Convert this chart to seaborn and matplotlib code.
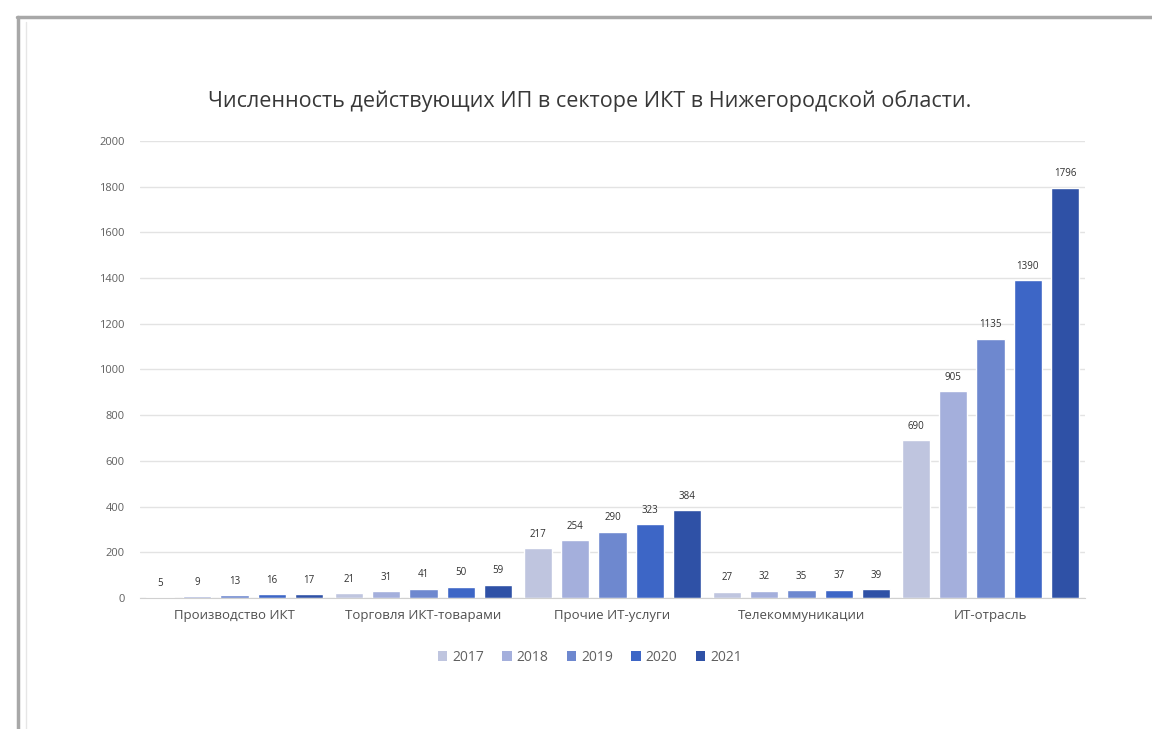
import matplotlib
matplotlib.use("Agg")
import matplotlib.pyplot as plt
from matplotlib.lines import Line2D
from matplotlib.patches import Patch
import pandas as pd
import seaborn as sns

categories = ["Производство ИКТ", "Торговля ИКТ-товарами", "Прочие ИТ-услуги",
              "Телекоммуникации", "ИТ-отрасль"]
years = ["2017", "2018", "2019", "2020", "2021"]
values_2017 = [5, 21, 217, 27, 690]
values_2018 = [9, 31, 254, 32, 905]
values_2019 = [13, 41, 290, 35, 1135]
values_2020 = [16, 50, 323, 37, 1390]
values_2021 = [17, 59, 384, 39, 1796]
y_ticks = [0, 200, 400, 600, 800, 1000, 1200, 1400, 1600, 1800, 2000]
title = "Численность действующих ИП в секторе ИКТ в Нижегородской области."

series = [values_2017, values_2018, values_2019, values_2020, values_2021]
df = pd.DataFrame(
    [(c, y, v) for y, vals in zip(years, series) for c, v in zip(categories, vals)],
    columns=["Сектор", "Год", "Число"],
)

palette = ["#bfc5df", "#a4afdc", "#6e88cf", "#3d66c6", "#2f51a6"]

sns.set_style("white")
plt.rcParams["font.family"] = ["Open Sans", "DejaVu Sans"]

fig = plt.figure(figsize=(11.52, 7.29), dpi=100)
ax = fig.add_axes([0.1215, 0.1797, 0.8203, 0.627])

sns.barplot(data=df, x="Сектор", y="Число", hue="Год", order=categories,
            hue_order=years, palette=palette, width=0.985, gap=0.24,
            saturation=1, legend=False, ax=ax)

for container in ax.containers:
    ax.bar_label(container, padding=6, fontsize=7, color="#303030")

ax.set_ylim(0, 2000)
ax.set_xlim(-0.5, 4.5)
ax.set_yticks(y_ticks)
ax.set_yticklabels([str(t) for t in y_ticks])
ax.yaxis.grid(True, color="#e3e3e3", linewidth=1)
ax.set_axisbelow(True)
for side in ["left", "right", "top"]:
    ax.spines[side].set_visible(False)
ax.spines["bottom"].set_color("#d0d0d0")
ax.tick_params(axis="y", length=0, pad=11, labelsize=8, labelcolor="#606060")
ax.tick_params(axis="x", length=0, pad=8, labelsize=9.5, labelcolor="#505050")
ax.set_xlabel("")
ax.set_ylabel("")

fig.text(0.512, 0.862, title, ha="center", va="center", fontsize=15.5,
         color="#383838")

handles = [Patch(facecolor=c, edgecolor="none") for c in palette]
fig.legend(handles, years, loc="center", bbox_to_anchor=(0.512, 0.098), ncol=5,
           frameon=False, fontsize=10, handlelength=0.7, handleheight=0.7,
           handletextpad=0.35, columnspacing=1.3, labelcolor="#606060")

# outer frame: top and left edges
fig.add_artist(Line2D([0.015, 1.0], [0.977, 0.977], transform=fig.transFigure,
                      color="#a8a8a8", linewidth=2.5))
fig.add_artist(Line2D([0.016, 0.016], [0.0, 0.977], transform=fig.transFigure,
                      color="#a8a8a8", linewidth=2.5))
fig.add_artist(Line2D([0.0225, 0.0225], [0.0, 0.97], transform=fig.transFigure,
                      color="#e6e6e6", linewidth=1))

fig.savefig("out.png", dpi=100)
